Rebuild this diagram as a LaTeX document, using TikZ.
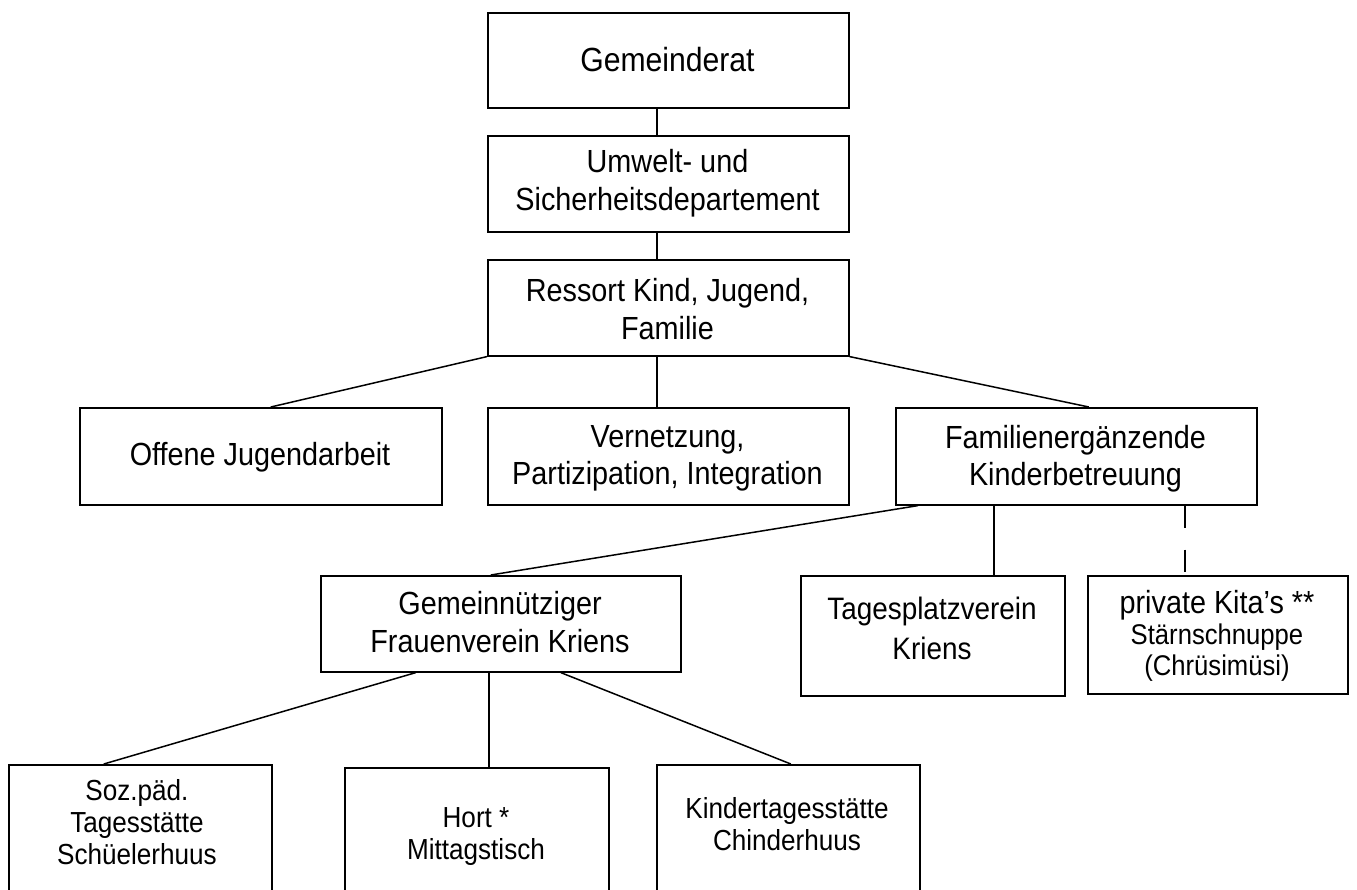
\documentclass[tikz,border=0pt]{standalone}
\usepackage{fontspec}
\setmainfont{Liberation Sans}[FakeStretch=0.9]
\begin{document}
\begin{tikzpicture}[x=1pt,y=-1pt,
  box/.style={draw, line width=1.6pt, inner sep=0pt, anchor=north west},
  conn/.style={line width=1.5pt},
  txt/.style={align=center, inner sep=0pt, font=\fontsize{32}{37.5}\selectfont},
  smalltxt/.style={align=center, inner sep=0pt, font=\fontsize{29}{32}\selectfont}]
\clip (0,0) rectangle (1357,890);
\fill[white] (0,0) rectangle (1357,890);
% boxes
\node[box, minimum width=361pt, minimum height=95pt] (G) at (487,12) {};
\node[box, minimum width=361pt, minimum height=96pt] (U) at (487,135) {};
\node[box, minimum width=361pt, minimum height=96pt] (R) at (487,259) {};
\node[box, minimum width=362pt, minimum height=97pt] (O) at (79,407) {};
\node[box, minimum width=361pt, minimum height=97pt] (V) at (487,407) {};
\node[box, minimum width=361pt, minimum height=97pt] (F) at (895,407) {};
\node[box, minimum width=360pt, minimum height=96pt] (GF) at (320,575) {};
\node[box, minimum width=264pt, minimum height=120pt] (T) at (800,575) {};
\node[box, minimum width=260pt, minimum height=118pt] (K) at (1087,575) {};
\node[box, minimum width=263pt, minimum height=200pt] (S) at (8,764) {};
\node[box, minimum width=264pt, minimum height=200pt] (H) at (344,767) {};
\node[box, minimum width=263pt, minimum height=200pt] (KT) at (656,764) {};
% texts
\node[txt, font=\fontsize{33.5}{37.5}\selectfont] (Gt) at (667.5,59.5) {Gemeinderat};
\node[txt] (Ut) at (667.5,183) {Umwelt- und\\Sicherheitsdepartement};
\node[txt] (Rt) at (667.5,309) {Ressort Kind, Jugend,\\Familie};
\node[txt] (Ot) at (260,457) {Offene Jugendarbeit};
\node[txt] (Vt) at (667.5,458.5) {Vernetzung,\\Partizipation, Integration};
\node[txt] (Ft) at (1075.5,458.5) {Familienergänzende\\Kinderbetreuung};
\node[txt] (GFt) at (500,622) {Gemeinnütziger\\Frauenverein Kriens};
\node[txt, font=\fontsize{31}{40}\selectfont] (Tt) at (932,628) {Tagesplatzverein\\Kriens};
\node[align=center, inner sep=0pt, font=\fontsize{28.5}{31}\selectfont] (Kt) at (1217,636)
  {\fontsize{32}{31}\selectfont private Kita’s **\\Stärnschnuppe\\(Chrüsimüsi)};
\node[smalltxt] (St) at (137,822) {Soz.päd.\\Tagesstätte\\Schüelerhuus};
\node[smalltxt] (Ht) at (476,837) {Hort *\\Mittagstisch};
\node[smalltxt] (KTt) at (787,824) {Kindertagesstätte\\Chinderhuus};
% connectors
\draw[conn] ([xshift=-11.5pt]G.south) -- ([xshift=-11.5pt]U.north);
\draw[conn] ([xshift=-11.5pt]U.south) -- ([xshift=-11.5pt]R.north);
\draw[conn] ([xshift=-11.5pt]R.south) -- ([xshift=-11.5pt]V.north);
\draw[conn] (R.south west) -- ([xshift=10pt]O.north);
\draw[conn] (R.south east) -- ([xshift=12.5pt]F.north);
\draw[conn] ([xshift=23pt]F.south west) -- ([xshift=-10pt]GF.north);
\draw[conn] ([xshift=-82.5pt]F.south) -- ([xshift=61pt]T.north);
\draw[conn, dash pattern=on 22pt off 22pt] ([xshift=108.5pt]F.south) -- ([xshift=-33pt]K.north);
\draw[conn] ([xshift=-85pt]GF.south) -- ([xshift=-36.5pt]S.north);
\draw[conn] ([xshift=-12pt]GF.south) -- ([xshift=12pt]H.north);
\draw[conn] ([xshift=60pt]GF.south) -- ([xshift=2.5pt]KT.north);
\end{tikzpicture}
\end{document}
